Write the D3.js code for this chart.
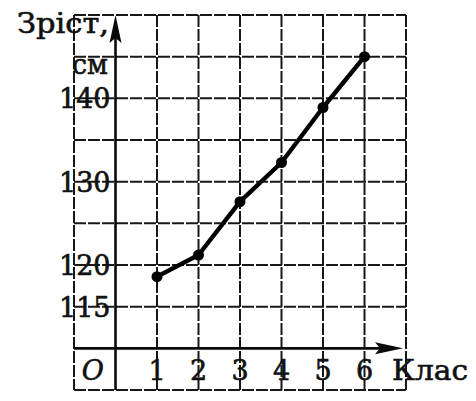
<!DOCTYPE html>
<html>
<head>
<meta charset="utf-8">
<script src="https://cdn.jsdelivr.net/npm/d3@7"></script>
<style>
  html, body { margin: 0; padding: 0; background: #fff; }
  svg { display: block; }
  text { font-family: "DejaVu Serif", "Liberation Serif", serif; fill: #111; stroke: #111; stroke-width: 0.6px; }
</style>
</head>
<body>
<script>
// ---- data ----
const classes = [1, 2, 3, 4, 5, 6];
const heights = [118.6, 121.2, 127.6, 132.3, 138.9, 145];
const yTickValues = [115, 120, 130, 140];
const yTickLabels = ["115", "120", "130", "140"];
const xTickLabels = ["1", "2", "3", "4", "5", "6"];
const yAxisTitle = ["Зріст,", "см"];
const xAxisTitle = "Клас";
const originLabel = "O";

const W = 476, H = 401;
const svg = d3.select("body").append("svg").attr("width", W).attr("height", H);

const x = d3.scaleLinear().domain([-1, 7]).range([74, 406]);
const y = d3.scaleLinear().domain([105, 150]).range([390, 15]);

const gridColor = "#181818";
const dash = "12,2";

// vertical grid lines (except y axis at 0)
const xs = d3.range(-1, 8).filter(d => d !== 0);
svg.append("g").selectAll("line").data(xs).join("line")
  .attr("x1", d => x(d)).attr("x2", d => x(d))
  .attr("y1", y(150)).attr("y2", y(105))
  .attr("stroke", gridColor).attr("stroke-width", 2)
  .attr("stroke-dasharray", dash);

// horizontal grid lines (except x axis at 110)
const ys = d3.range(105, 151, 5).filter(d => d !== 110);
svg.append("g").selectAll("line").data(ys).join("line")
  .attr("x1", x(-1)).attr("x2", x(7))
  .attr("y1", d => y(d)).attr("y2", d => y(d))
  .attr("stroke", gridColor).attr("stroke-width", 2)
  .attr("stroke-dasharray", dash);

// axes (solid)
const axisColor = "#0a0a0a";
// y axis
svg.append("line")
  .attr("x1", x(0)).attr("x2", x(0))
  .attr("y1", y(105)).attr("y2", y(150) + 20)
  .attr("stroke", axisColor).attr("stroke-width", 2.6);
svg.append("path")
  .attr("d", `M${x(0)},${y(150)} L${x(0) - 6},${y(150) + 28} L${x(0)},${y(150) + 23} L${x(0) + 6},${y(150) + 28} Z`)
  .attr("fill", axisColor);
// x axis
svg.append("line")
  .attr("x1", x(-1)).attr("x2", x(7) - 20)
  .attr("y1", y(110)).attr("y2", y(110))
  .attr("stroke", axisColor).attr("stroke-width", 2.6);
svg.append("path")
  .attr("d", `M${x(7) - 3},${y(110)} L${x(7) - 31},${y(110) - 6} L${x(7) - 26},${y(110)} L${x(7) - 31},${y(110) + 6} Z`)
  .attr("fill", axisColor);

// y tick labels
svg.append("g").selectAll("text").data(yTickValues).join("text")
  .attr("x", x(0) - 5)
  .attr("y", d => y(d) + 10)
  .attr("text-anchor", "end")
  .attr("font-size", 27)
  .text((d, i) => yTickLabels[i]);

// x tick labels
svg.append("g").selectAll("text").data(classes).join("text")
  .attr("x", d => x(d))
  .attr("y", 380)
  .attr("text-anchor", "middle")
  .attr("font-size", 27)
  .text((d, i) => xTickLabels[i]);

// origin
svg.append("text")
  .attr("x", (x(-1) + x(0)) / 2 - 2).attr("y", 380)
  .attr("text-anchor", "middle")
  .attr("font-size", 27).attr("font-style", "italic")
  .text(originLabel);

// axis titles
svg.append("text").attr("x", 17).attr("y", 33)
  .attr("font-size", 28).attr("textLength", 92).attr("lengthAdjust", "spacingAndGlyphs")
  .text(yAxisTitle[0]);
svg.append("text").attr("x", 72).attr("y", 74)
  .attr("font-size", 28).attr("textLength", 36).attr("lengthAdjust", "spacingAndGlyphs")
  .text(yAxisTitle[1]);
svg.append("text").attr("x", 392).attr("y", 380)
  .attr("font-size", 28).attr("textLength", 76).attr("lengthAdjust", "spacingAndGlyphs")
  .text(xAxisTitle);

// data line
const line = d3.line().x((d, i) => x(classes[i])).y(d => y(d));
svg.append("path").datum(heights)
  .attr("d", line)
  .attr("fill", "none").attr("stroke", "#000").attr("stroke-width", 4.4)
  .attr("stroke-linejoin", "round");
svg.append("g").selectAll("circle").data(heights).join("circle")
  .attr("cx", (d, i) => x(classes[i])).attr("cy", d => y(d))
  .attr("r", 5.5).attr("fill", "#000");
</script>
</body>
</html>
